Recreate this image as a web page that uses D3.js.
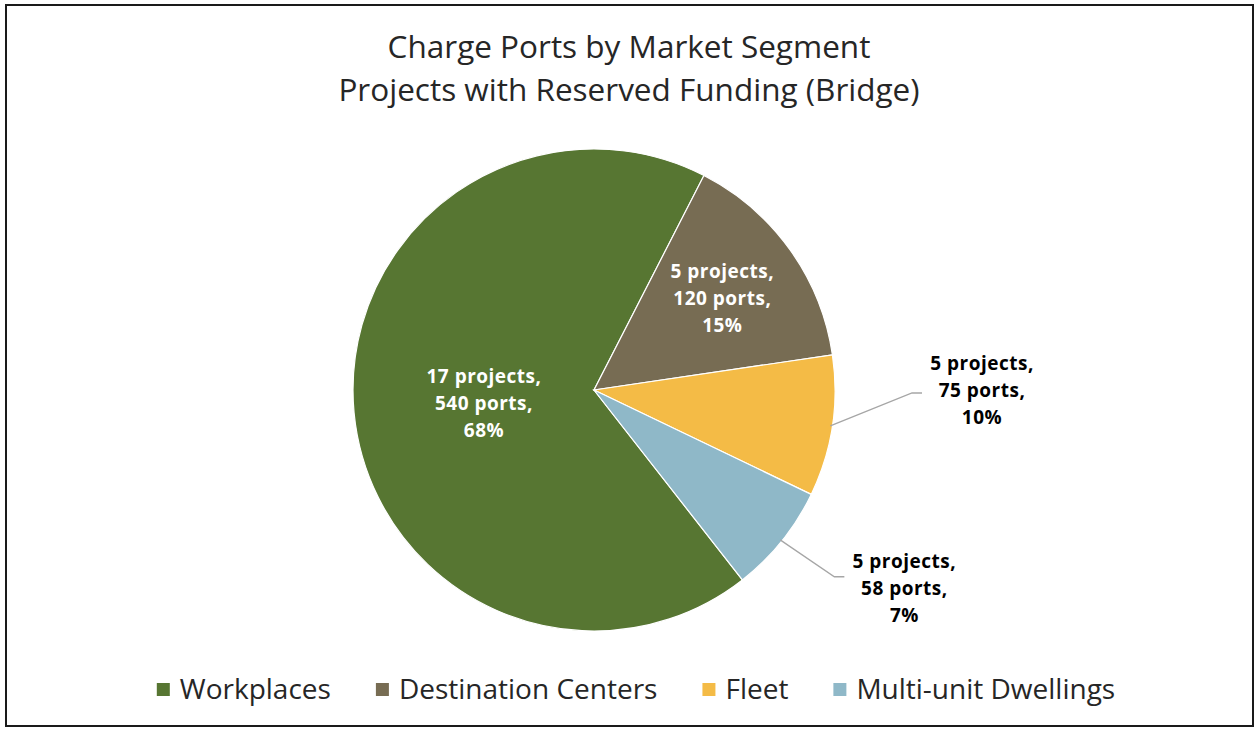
<!DOCTYPE html>
<html>
<head>
<meta charset="utf-8">
<script src="https://cdn.jsdelivr.net/npm/d3@7"></script>
<style>
  body { margin: 0; background: #fff; }
  svg { display: block; }
</style>
</head>
<body>
<div id="chart"></div>
<script>
let w = 1255;
let h = 729;

// data
const segments = ["Workplaces", "Destination Centers", "Fleet", "Multi-unit Dwellings"];
const projects = [17, 5, 5, 5];
const ports = [540, 120, 75, 58];
const percents = ["68%", "15%", "10%", "7%"];
const titleLines = ["Charge Ports by Market Segment", "Projects with Reserved Funding (Bridge)"];

const colors = ["#577632", "#776c53", "#f4bb46", "#8fb8c8"];

// label placement: inside labels use a fraction of the radius along the mid angle,
// outside labels get an angle (deg) + distance from centre
const labelLayout = [
  { inside: true, k: 0.46, dAngle: -1.5 },
  { inside: true, k: 0.655, dAngle: 0 },
  { inside: false, angle: 90, dist: 388 },
  { inside: false, angle: 122.5, dist: 368 }
];

let cx = 594, cy = 390, r = 241;
let startDeg = 142;

let svg = d3.select("#chart").append("svg")
  .attr("width", w)
  .attr("height", h);

// outer frame
svg.append("rect")
  .attr("x", 6).attr("y", 5)
  .attr("width", 1247).attr("height", 721)
  .attr("fill", "#fff")
  .attr("stroke", "#1a1a1a")
  .attr("stroke-width", 2);

// title
svg.append("g").selectAll("text")
  .data(titleLines)
  .enter().append("text")
  .attr("x", 629)
  .attr("y", (d, i) => 58 + i * 43)
  .attr("text-anchor", "middle")
  .attr("font-family", "'Open Sans', sans-serif")
  .attr("font-size", 31.5)
  .attr("fill", "#262626")
  .text(d => d);

let rows = segments.map((s, i) => ({ name: s, projects: projects[i], ports: ports[i], pct: percents[i], color: colors[i], lay: labelLayout[i] }));

let pie = d3.pie()
  .sort(null)
  .value(d => d.ports)
  .startAngle(startDeg * Math.PI / 180)
  .endAngle(startDeg * Math.PI / 180 + 2 * Math.PI);

let arcs = pie(rows);
let arc = d3.arc().innerRadius(0).outerRadius(r);

let g = svg.append("g").attr("transform", `translate(${cx},${cy})`);

g.selectAll("path")
  .data(arcs)
  .enter().append("path")
  .attr("d", arc)
  .attr("fill", d => d.data.color)
  .attr("stroke", "#fff")
  .attr("stroke-width", 1.2);

let polar = (deg, dist) => {
  let a = deg * Math.PI / 180;
  return [Math.sin(a) * dist, -Math.cos(a) * dist];
};

let lineH = 27;

arcs.forEach(d => {
  let mid = (d.startAngle + d.endAngle) / 2 * 180 / Math.PI;
  let lay = d.data.lay;
  let pos;
  if (lay.inside) {
    pos = polar(mid + lay.dAngle, r * lay.k);
  } else {
    pos = polar(lay.angle, lay.dist);
    // leader line: from the slice edge to the left side of the label
    let edge = polar(mid, r - 2);
    let elbowX = pos[0] - 70;
    let elbowY = pos[1] + (d.index === 2 ? 3 : -11);
    g.append("polyline")
      .attr("points", [edge, [elbowX, elbowY], [elbowX + 10, elbowY]].map(p => p.join(",")).join(" "))
      .attr("fill", "none")
      .attr("stroke", "#a6a6a6")
      .attr("stroke-width", 1.3);
  }
  let lines = [`${d.data.projects} projects,`, `${d.data.ports} ports,`, d.data.pct];
  g.append("text")
    .attr("text-anchor", "middle")
    .attr("font-family", "'Open Sans', sans-serif")
    .attr("font-weight", "bold")
    .attr("font-size", 19)
    .attr("letter-spacing", 0.5)
    .attr("fill", lay.inside ? "#fff" : "#000")
    .selectAll("tspan")
    .data(lines)
    .enter().append("tspan")
    .attr("x", pos[0])
    .attr("y", (t, i) => pos[1] + (i - 1) * lineH + 7)
    .text(t => t);
});

// legend
let legend = svg.append("g");
let legendItems = legend.selectAll("g")
  .data(rows)
  .enter().append("g");

legendItems.append("rect")
  .attr("width", 13).attr("height", 13)
  .attr("y", 683)
  .attr("fill", d => d.color);

legendItems.append("text")
  .attr("x", 23)
  .attr("y", 699)
  .attr("font-family", "'Open Sans', sans-serif")
  .attr("font-size", 28)
  .attr("fill", "#262626")
  .text(d => d.name);

let x = 0;
let offsets = [];
legendItems.each(function (d) {
  offsets.push(x);
  let tw = d3.select(this).select("text").node().getComputedTextLength();
  x += 23 + tw + 45;
});
let total = x - 45;
let legendStart = 636 - total / 2;
legendItems.attr("transform", (d, i) => `translate(${legendStart + offsets[i]},0)`);
</script>
</body>
</html>
